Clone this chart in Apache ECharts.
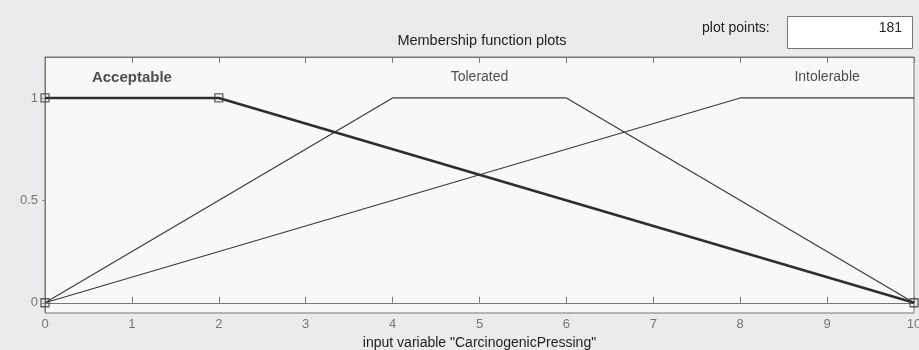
<!DOCTYPE html>
<html>
<head>
<meta charset="utf-8">
<script src="https://cdn.jsdelivr.net/npm/echarts@6/dist/echarts.min.js"></script>
<style>
  html, body { margin: 0; padding: 0; background: #ebeaec; }
  #chart { width: 919px; height: 350px; }
</style>
</head>
<body>
<div id="chart"></div>
<script>
// Membership functions of input variable "CarcinogenicPressing" (range 0..10)
const mfNames = ['Acceptable', 'Tolerated', 'Intolerable'];
// vertices [x, membership] of each membership function
const acceptablePts = [[0, 0], [0, 1], [2, 1], [10, 0]];
const toleratedPts = [[0, 0], [4, 1], [6, 1], [10, 0]];
const intolerablePts = [[0, 0], [8, 1], [10, 1]];
// where each function's name is written
const labelX = [1, 5, 9];
const labelY = 1.1;
const xTicks = [0, 1, 2, 3, 4, 5, 6, 7, 8, 9, 10];
const yTicks = [0, 0.5, 1];
const plotPoints = 181;

const chart = echarts.init(document.getElementById('chart'));
const font = '"Liberation Sans", Arial, sans-serif';
const lineColor = '#3a3a3a';

const labelData = mfNames.map((n, i) => ({
  value: [labelX[i], labelY],
  label: {
    formatter: n,
    fontWeight: i === 0 ? 'bold' : 'normal',
    fontSize: i === 0 ? 15 : 14
  }
}));

chart.setOption({
  animation: false,
  backgroundColor: '#ebeaec',
  grid: { left: 45, right: 5, top: 57, bottom: 37, show: true,
          outerBoundsMode: 'none',
          backgroundColor: '#f8f8f9', borderColor: '#777', borderWidth: 1 },
  title: {
    text: 'Membership function plots',
    left: 477, top: 28, textAlign: 'center',
    textStyle: { fontFamily: font, fontSize: 14.5, fontWeight: 'normal', color: '#222' }
  },
  xAxis: [{
    type: 'value', min: 0, max: 10, interval: 1, position: 'bottom',
    name: 'input variable "CarcinogenicPressing"',
    nameLocation: 'middle', nameGap: 22,
    nameTextStyle: { fontFamily: font, fontSize: 14, color: '#222' },
    axisLine: { show: true, lineStyle: { color: '#777' } },
    axisTick: { show: true, inside: true, length: 6, lineStyle: { color: '#777' } },
    axisLabel: { fontFamily: font, fontSize: 13, color: '#777', margin: 5,
                 customValues: xTicks },
    splitLine: { show: false }
  }, {
    type: 'value', min: 0, max: 10, interval: 1, position: 'top',
    axisLine: { show: true, lineStyle: { color: '#777' } },
    axisTick: { show: true, inside: true, length: 6, lineStyle: { color: '#777' } },
    axisLabel: { show: false },
    splitLine: { show: false }
  }],
  yAxis: {
    type: 'value', min: -0.05, max: 1.2,
    axisLine: { show: true, lineStyle: { color: '#777' } },
    axisTick: { show: true, length: 3, customValues: yTicks,
                lineStyle: { color: '#888' } },
    axisLabel: { fontFamily: font, fontSize: 13, color: '#777', margin: 7,
                 customValues: yTicks },
    splitLine: { show: false }
  },
  series: [{
    type: 'line', name: mfNames[1], data: toleratedPts,
    showSymbol: false, lineStyle: { color: lineColor, width: 1.2 }
  }, {
    type: 'line', name: mfNames[2], data: intolerablePts,
    showSymbol: false, lineStyle: { color: lineColor, width: 1.2 }
  }, {
    // the selected function: heavy line, with square handles on every vertex
    type: 'line', name: mfNames[0], data: acceptablePts.slice(1),
    showSymbol: false,
    lineStyle: { color: '#2e2e2e', width: 2.6 },
    z: 3
  }, {
    type: 'scatter', name: mfNames[0] + ' handles', data: acceptablePts,
    symbol: 'rect', symbolSize: 8,
    itemStyle: { color: 'rgba(0,0,0,0)', borderColor: lineColor, borderWidth: 1.3 },
    z: 4, silent: true
  }, {
    type: 'scatter', data: labelData, symbolSize: 0,
    label: { show: true, position: 'inside', fontFamily: font, color: '#222' },
    silent: true
  }],
  graphic: [{
    type: 'text', left: 702, top: 21,
    style: { text: 'plot points:', font: '14px ' + font, fill: '#222' }
  }, {
    type: 'rect', left: 787, top: 16,
    shape: { width: 125, height: 32 },
    style: { fill: '#ffffff', stroke: '#777', lineWidth: 1 }
  }, {
    type: 'text', right: 17, top: 21,
    style: { text: String(plotPoints), font: '14px ' + font, fill: '#222', align: 'right' }
  }]
});
</script>
</body>
</html>
